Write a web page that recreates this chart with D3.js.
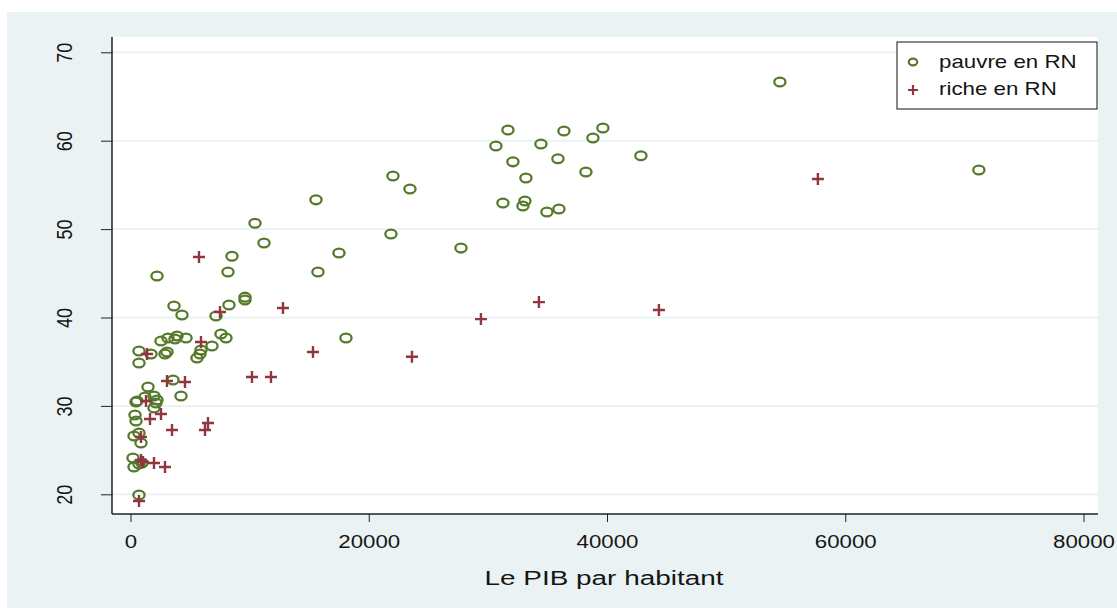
<!DOCTYPE html>
<html>
<head>
<meta charset="utf-8">
<script src="https://cdn.jsdelivr.net/npm/d3@7"></script>
<style>
	body { margin: 0; background: #fff; }
	svg { display: block; font-family: "Liberation Sans", Arial, sans-serif; }
</style>
</head>
<body>
<div id="chart"></div>
<script>
// pauvre en RN : [PIB par habitant, valeur]
const pauvre = [
	[54512, 66.64], [71215, 56.69], [39657, 61.44], [36384, 61.10], [31684, 61.21],
	[30675, 59.40], [34453, 59.63], [38818, 60.31], [32103, 57.61], [35880, 57.95],
	[42846, 58.29], [38230, 56.46], [33194, 55.78], [31264, 52.95], [33110, 53.18],
	[32943, 52.61], [34957, 51.93], [35964, 52.27], [22031, 56.01], [23458, 54.54],
	[15569, 53.31], [10449, 50.66], [11205, 48.42], [21863, 49.45], [27739, 47.85],
	[17499, 47.30], [15737, 45.14], [8519, 46.93], [8183, 45.14], [2224, 44.69],
	[9610, 42.30], [9610, 41.98], [8267, 41.41], [3651, 41.30], [4322, 40.28],
	[7176, 40.17], [18087, 37.68], [7596, 38.13], [8015, 37.68], [6840, 36.78],
	[5917, 36.32], [5833, 35.87], [5581, 35.42], [2560, 37.34], [3147, 37.68],
	[3735, 37.57], [3903, 37.90], [4658, 37.68], [713, 36.21], [713, 34.85],
	[1721, 35.87], [2896, 35.87], [3063, 36.10], [3567, 32.93], [1469, 32.14],
	[4238, 31.12], [546, 30.55], [1217, 31.00], [1972, 31.12], [2224, 30.67],
	[2140, 30.33], [1972, 29.76], [462, 30.44], [378, 28.97], [462, 28.29],
	[294, 26.59], [713, 26.93], [881, 25.80], [210, 24.10], [294, 23.08],
	[713, 23.43], [965, 23.54], [713, 19.92]
];

// riche en RN
const riche = [
	[57702, 55.67], [34285, 41.74], [44357, 40.84], [29418, 39.82], [12799, 41.07],
	[23626, 35.56], [15317, 36.10], [10197, 33.27], [11792, 33.27], [5749, 46.85],
	[7512, 40.62], [5917, 37.23], [1385, 35.87], [3063, 32.82], [4574, 32.70],
	[1301, 30.55], [1637, 28.52], [2560, 29.08], [3483, 27.27], [6505, 28.07],
	[6253, 27.27], [881, 26.48], [881, 23.88], [1049, 23.65], [1972, 23.54],
	[2896, 23.09], [713, 19.25]
];

const xTicks = [0, 20000, 40000, 60000, 80000];
const yTicks = [20, 30, 40, 50, 60, 70];
const legendLabels = ['pauvre en RN', 'riche en RN'];

const W = 1117, H = 608;
const green = '#557a2a', red = '#913540', bg = '#eaf2f3', ink = '#151515';
const plot = { left: 112, top: 37, right: 1098, bottom: 514 };
const sx = 1.27; // the text is drawn a bit wide, as in the picture

const svg = d3.select('#chart').append('svg')
	.attr('width', W)
	.attr('height', H);

svg.append('rect')
	.attr('x', 7).attr('y', 12)
	.attr('width', W - 7).attr('height', H - 12)
	.attr('fill', bg);

svg.append('rect')
	.attr('x', plot.left).attr('y', plot.top)
	.attr('width', plot.right - plot.left)
	.attr('height', plot.bottom - plot.top)
	.attr('fill', '#fff');

const x = d3.scaleLinear().domain([0, 80000]).range([130.5, 1083.5]);
const y = d3.scaleLinear().domain([20, 70]).range([494.3, 52.3]);

// gridlines
svg.append('g')
	.selectAll('line')
	.data(yTicks)
	.join('line')
	.attr('x1', plot.left).attr('x2', plot.right)
	.attr('y1', d => y(d)).attr('y2', d => y(d))
	.attr('stroke', bg)
	.attr('stroke-width', 2);

// axes
const xAxis = svg.append('g')
	.attr('transform', `translate(0,${plot.bottom})`)
	.call(d3.axisBottom(x).tickValues(xTicks).tickFormat(d3.format('d')).tickSize(8));
xAxis.select('.domain').remove();
xAxis.selectAll('line').attr('stroke', '#222');
xAxis.selectAll('text')
	.attr('font-size', 17.5)
	.attr('fill', ink)
	.attr('font-family', '"Liberation Sans", Arial, sans-serif')
	.attr('y', null)
	.attr('dy', null)
	.attr('transform', `translate(0,34) scale(${sx},1)`);

const yAxis = svg.append('g')
	.attr('transform', `translate(${plot.left},0)`)
	.call(d3.axisLeft(y).tickValues(yTicks).tickSize(11));
yAxis.select('.domain').remove();
yAxis.selectAll('line').attr('stroke', '#222');
yAxis.selectAll('text')
	.attr('font-size', 18)
	.attr('fill', ink)
	.attr('font-family', '"Liberation Sans", Arial, sans-serif')
	.attr('text-anchor', 'middle')
	.attr('dy', null)
	.attr('x', null)
	.attr('dominant-baseline', 'central')
	.attr('transform', `translate(-48,0) scale(${sx},1) rotate(-90)`);

svg.append('line')
	.attr('x1', plot.left).attr('x2', plot.right)
	.attr('y1', plot.bottom).attr('y2', plot.bottom)
	.attr('stroke', '#222').attr('stroke-width', 1.5);
svg.append('line')
	.attr('x1', plot.left).attr('x2', plot.left)
	.attr('y1', plot.top).attr('y2', plot.bottom)
	.attr('stroke', '#222').attr('stroke-width', 1.5);

svg.append('text')
	.attr('transform', 'translate(604,585) scale(1.33,1)')
	.attr('text-anchor', 'middle')
	.attr('font-size', 21)
	.attr('fill', ink)
	.text('Le PIB par habitant');

// points
const plusPath = 'M-6,0H6M0,-6V6';

svg.append('g')
	.selectAll('ellipse')
	.data(pauvre)
	.join('ellipse')
	.attr('cx', d => x(d[0]))
	.attr('cy', d => y(d[1]))
	.attr('rx', 5.6)
	.attr('ry', 4.4)
	.attr('fill', 'none')
	.attr('stroke', green)
	.attr('stroke-width', 2.3);

svg.append('g')
	.selectAll('path')
	.data(riche)
	.join('path')
	.attr('transform', d => `translate(${x(d[0])},${y(d[1])})`)
	.attr('d', plusPath)
	.attr('fill', 'none')
	.attr('stroke', red)
	.attr('stroke-width', 2.4);

// legend
const legend = svg.append('g').attr('transform', 'translate(897,42)');
legend.append('rect')
	.attr('width', 200).attr('height', 67)
	.attr('fill', '#fff')
	.attr('stroke', '#111')
	.attr('stroke-width', 1);
legend.append('ellipse')
	.attr('cx', 16).attr('cy', 20).attr('rx', 4.2).attr('ry', 3.3)
	.attr('fill', 'none').attr('stroke', green).attr('stroke-width', 2.2);
legend.append('path')
	.attr('transform', 'translate(16,48)')
	.attr('d', 'M-5,0H5M0,-5V5')
	.attr('stroke', red).attr('stroke-width', 2.2);
legend.selectAll('text.lab')
	.data(legendLabels)
	.join('text')
	.attr('class', 'lab')
	.attr('transform', (d, i) => `translate(42,${26 + i * 27}) scale(1.24,1)`)
	.attr('font-size', 18)
	.attr('fill', ink)
	.text(d => d);
</script>
</body>
</html>
